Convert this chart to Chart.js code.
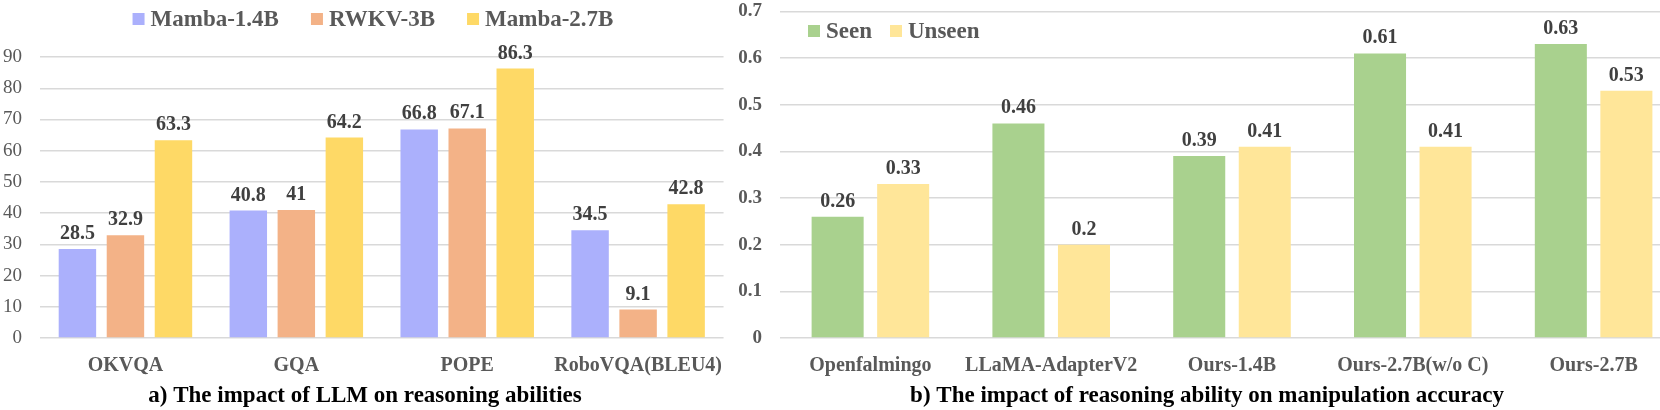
<!DOCTYPE html>
<html>
<head>
<meta charset="utf-8">
<script src="https://cdn.jsdelivr.net/npm/chart.js@4.4.1/dist/chart.umd.min.js"></script>
<style>
  html, body { margin: 0; padding: 0; background: #fff; width: 1660px; height: 410px; overflow: hidden; }
  #wrapA { position: absolute; left: 0; top: 0; width: 730px; height: 410px; }
  #wrapB { position: absolute; left: 730px; top: 0; width: 970px; height: 410px; }
</style>
</head>
<body>
<div id="wrapA"><canvas id="chartA" width="730" height="410"></canvas></div>
<div id="wrapB"><canvas id="chartB" width="970" height="410"></canvas></div>
<script>
// ---- Data: chart a ----
const catsA = ["OKVQA", "GQA", "POPE", "RoboVQA(BLEU4)"];
const mamba14 = [28.5, 40.8, 66.8, 34.5];
const rwkv3 = [32.9, 41, 67.1, 9.1];
const mamba27 = [63.3, 64.2, 86.3, 42.8];
const ticksA = { min: 0, max: 90, step: 10 };
const titleA = "a) The impact of LLM on reasoning abilities";

// ---- Data: chart b ----
const catsB = ["Openfalmingo", "LLaMA-AdapterV2", "Ours-1.4B", "Ours-2.7B(w/o C)", "Ours-2.7B"];
const seen = [0.26, 0.46, 0.39, 0.61, 0.63];
const unseen = [0.33, 0.2, 0.41, 0.41, 0.53];
const ticksB = { min: 0, max: 0.7, step: 0.1 };
const titleB = "b) The impact of reasoning ability on manipulation accuracy";

const FONT = "'Liberation Serif', 'Times New Roman', serif";
const GRAY = "#595959";

Chart.defaults.font.family = FONT;
Chart.defaults.animation = false;

// value labels above bars
const valueLabels = {
  id: 'valueLabels',
  afterDatasetsDraw(chart) {
    const ctx = chart.ctx;
    ctx.save();
    ctx.font = "bold 20px " + FONT;
    ctx.fillStyle = "#404040";
    ctx.textAlign = "center";
    ctx.textBaseline = "alphabetic";
    chart.data.datasets.forEach((ds, i) => {
      const meta = chart.getDatasetMeta(i);
      meta.data.forEach((el, j) => {
        ctx.fillText(String(ds.data[j]), el.x, el.y - 10);
      });
    });
    ctx.restore();
  }
};

// custom legend
const customLegend = {
  id: 'customLegend',
  afterDraw(chart, args, opts) {
    const ctx = chart.ctx;
    ctx.save();
    ctx.font = "bold 23px " + FONT;
    ctx.textBaseline = "alphabetic";
    ctx.textAlign = "left";
    const items = chart.data.datasets.map(d => ({ text: d.label, color: d.backgroundColor }));
    const widths = items.map(it => 12 + 6 + ctx.measureText(it.text).width);
    const total = widths.reduce((a, b) => a + b, 0) + opts.gap * (items.length - 1);
    let x = opts.center !== undefined ? opts.center - total / 2 : opts.x;
    items.forEach((it, k) => {
      ctx.fillStyle = it.color;
      ctx.fillRect(x, opts.boxTop, 12, 12);
      ctx.fillStyle = GRAY;
      ctx.fillText(it.text, x + 18, opts.baseline);
      x += widths[k] + opts.gap;
    });
    ctx.restore();
  }
};

function makeChart(id, cats, datasets, tk, title, o) {
  return new Chart(document.getElementById(id), {
    type: 'bar',
    data: { labels: cats, datasets: datasets },
    options: {
      responsive: false,
      animation: false,
      layout: { padding: { top: o.top, right: o.right, left: 0, bottom: 0 } },
      datasets: { bar: { categoryPercentage: o.cp, barPercentage: o.bp } },
      plugins: {
        legend: { display: false },
        tooltip: { enabled: false },
        title: {
          display: true, text: title, position: 'bottom', color: '#000',
          font: { family: FONT, size: 23, weight: 'bold' },
          padding: { top: 0, bottom: 0 }
        },
        customLegend: o.legend
      },
      scales: {
        x: {
          grid: { display: false },
          border: { display: false },
          ticks: { color: GRAY, font: { family: FONT, size: 20, weight: 'bold' }, padding: 8, maxRotation: 0, autoSkip: false },
          afterFit(s) { s.height = o.xh; }
        },
        y: {
          min: tk.min, max: tk.max,
          grid: { color: '#d9d9d9', lineWidth: 1.4, drawTicks: true, tickLength: 18, tickColor: 'rgba(0,0,0,0)' },
          border: { display: false },
          ticks: { stepSize: tk.step, color: GRAY, padding: 0, font: { family: FONT, size: 19, weight: o.yBold ? 'bold' : 'normal' } },
          afterFit(s) { s.width = o.yw; }
        }
      }
    },
    plugins: [valueLabels, customLegend]
  });
}

makeChart('chartA', catsA, [
  { label: 'Mamba-1.4B', data: mamba14, backgroundColor: '#ABB0FC' },
  { label: 'RWKV-3B', data: rwkv3, backgroundColor: '#F3B287' },
  { label: 'Mamba-2.7B', data: mamba27, backgroundColor: '#FED966' }
], ticksA, titleA, {
  top: 57, right: 0, cp: 0.843, bp: 0.78, yw: 40, xh: 44.4, yBold: false,
  legend: { center: 373, gap: 32, boxTop: 13, baseline: 26 }
});

makeChart('chartB', catsB, [
  { label: 'Seen', data: seen, backgroundColor: '#A9D18E' },
  { label: 'Unseen', data: unseen, backgroundColor: '#FFE699' }
], ticksB, titleB, {
  top: 11, right: 16, cp: 0.725, bp: 0.794, yw: 50, xh: 44.4, yBold: true,
  legend: { x: 78, gap: 18, boxTop: 25, baseline: 38 }
});
</script>
</body>
</html>
